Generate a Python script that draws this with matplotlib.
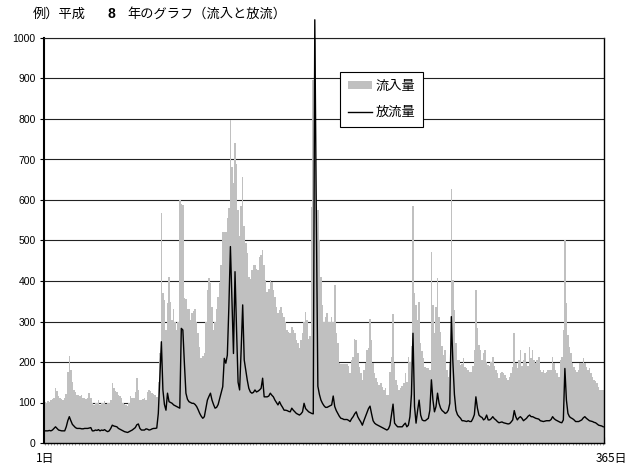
import numpy as np
import matplotlib
matplotlib.use('Agg')
import matplotlib.pyplot as plt
from matplotlib.patches import Patch
from matplotlib.lines import Line2D

plt.rcParams['font.family'] = ['Noto Sans CJK JP', 'DejaVu Sans']

# daily inflow (流入量)
inflow = [
    102, 100, 104, 102, 105, 108, 112, 135, 128, 115,
    110, 108, 105, 110, 120, 175, 215, 180, 150, 130,
    125, 118, 118, 115, 118, 112, 110, 108, 112, 124,
    110, 98, 95, 100, 98, 105, 95, 100, 98, 103,
    96, 100, 98, 105, 147, 135, 128, 125, 118, 115,
    110, 100, 96, 94, 92, 98, 115, 112, 110, 125,
    161, 130, 106, 105, 108, 110, 106, 125, 132, 128,
    123, 120, 118, 114, 150, 221, 567, 370, 353, 279,
    345, 411, 349, 304, 330, 300, 279, 300, 600, 590,
    588, 357, 355, 330, 330, 304, 320, 325, 332, 300,
    271, 238, 209, 215, 221, 300, 378, 407, 394, 337,
    279, 300, 330, 360, 395, 440, 520, 522, 520, 555,
    580, 798, 682, 641, 740, 690, 575, 510, 584, 658,
    535, 493, 468, 411, 405, 427, 440, 440, 430, 427,
    460, 465, 477, 440, 402, 374, 380, 402, 398, 378,
    361, 337, 320, 328, 337, 320, 312, 300, 279, 275,
    271, 287, 279, 271, 254, 246, 234, 254, 271, 300,
    324, 304, 258, 263, 583, 896, 1010, 583, 575, 500,
    411, 340, 300, 310, 320, 300, 300, 312, 300, 390,
    271, 246, 197, 195, 195, 195, 195, 195, 190, 174,
    205, 213, 258, 254, 221, 188, 172, 156, 180, 197,
    230, 234, 305, 254, 197, 172, 160, 151, 143, 147,
    139, 131, 135, 119, 119, 176, 213, 319, 197, 156,
    143, 131, 135, 140, 147, 174, 151, 213, 200, 240,
    585, 370, 341, 304, 349, 246, 226, 209, 188, 184,
    184, 180, 472, 341, 271, 337, 407, 312, 275, 240,
    217, 230, 180, 164, 197, 626, 402, 328, 246, 205,
    205, 193, 195, 209, 188, 184, 180, 176, 176, 190,
    230, 379, 283, 242, 230, 205, 221, 230, 200, 193,
    190, 200, 213, 190, 180, 172, 160, 172, 176, 174,
    168, 160, 156, 164, 172, 188, 271, 197, 184, 205,
    230, 190, 205, 221, 197, 190, 236, 209, 230, 205,
    197, 205, 213, 180, 176, 180, 172, 176, 180, 180,
    180, 213, 197, 180, 172, 164, 205, 213, 280, 501,
    345, 267, 238, 221, 197, 188, 180, 176, 180, 197,
    197, 209, 197, 188, 180, 184, 172, 164, 156, 152,
    147, 139, 132, 132, 130,
]

# daily outflow (放流量)
outflow = [
    30, 30, 30, 31, 30, 32, 36, 40, 36, 32,
    31, 30, 30, 30, 40, 55, 65, 55, 46, 42,
    38, 36, 36, 36, 35, 35, 36, 36, 36, 37,
    38, 30, 30, 32, 31, 33, 30, 32, 31, 33,
    30, 28, 30, 36, 44, 42, 41, 40, 36, 34,
    32, 30, 28, 27, 26, 28, 30, 32, 35, 38,
    45, 47, 36, 32, 32, 32, 35, 34, 32, 33,
    35, 36, 36, 37, 73, 160, 250, 131, 95, 81,
    123, 102, 100, 98, 94, 92, 90, 88, 86, 283,
    279, 197, 123, 108, 102, 100, 98, 98, 95, 90,
    82, 73, 66, 61, 65, 85, 106, 115, 123, 106,
    95, 86, 88, 95, 110, 125, 139, 209, 197, 217,
    337, 485, 350, 221, 423, 280, 150, 131, 230, 341,
    205, 180, 155, 135, 126, 123, 125, 131, 126, 128,
    131, 135, 160, 114, 114, 114, 116, 123, 118, 114,
    106, 100, 94, 102, 94, 88, 81, 81, 80, 78,
    77, 86, 81, 77, 73, 71, 69, 72, 77, 98,
    85, 81, 77, 75, 73, 72, 1045, 560, 140, 120,
    106, 98, 92, 88, 88, 90, 92, 94, 116, 90,
    80, 73, 66, 61, 60, 58, 58, 58, 56, 53,
    60, 65, 72, 77, 65, 58, 52, 44, 55, 65,
    75, 85, 91, 72, 55, 49, 46, 44, 42, 40,
    38, 36, 34, 32, 35, 44, 70, 96, 49, 44,
    40, 40, 40, 40, 45, 49, 40, 44, 65, 120,
    271, 90, 49, 80, 106, 69, 57, 55, 55, 58,
    61, 81, 156, 106, 77, 90, 123, 98, 86, 80,
    77, 73, 75, 81, 98, 312, 200, 120, 81, 70,
    65, 61, 55, 55, 54, 53, 55, 53, 53, 60,
    70, 114, 86, 69, 65, 63, 57, 60, 69, 57,
    57, 60, 65, 60, 57, 53, 50, 51, 52, 50,
    49, 48, 47, 48, 52, 57, 80, 65, 57, 62,
    65, 61, 55, 58, 61, 66, 69, 65, 65, 63,
    61, 60, 59, 55, 54, 53, 54, 55, 55, 55,
    58, 65, 60, 57, 55, 53, 51, 50, 57, 184,
    106, 73, 65, 62, 60, 57, 53, 53, 53, 55,
    57, 62, 65, 61, 58, 55, 54, 53, 51, 50,
    47, 44, 43, 42, 40,
]

y_ticks = list(range(0, 1001, 100))
assert len(inflow) == 365 and len(outflow) == 365
days = np.arange(1, len(inflow) + 1)

W, H = 629, 465
fig = plt.figure(figsize=(W / 100, H / 100), dpi=100)
ax = fig.add_axes([44 / W, 1 - 443 / H, 560 / W, 405 / H])

ax.bar(days, inflow, width=1.0, color='#c0c0c0', linewidth=0, zorder=2)
ax.plot(days, outflow, color='black', lw=1.0, zorder=3, clip_on=False)

ax.set_xlim(0.5, 365.5)
ax.set_ylim(0, 1000)
ax.set_yticks(y_ticks)
ax.set_yticklabels([str(v) for v in y_ticks], family='Liberation Sans', fontsize=7.5)
ax.yaxis.grid(True, color='#222222', lw=0.8)
ax.set_axisbelow(True)
ax.tick_params(axis='y', length=3, width=0.8, pad=3)

# month ticks on the category axis, small day ticks below
ax.set_xticks([0.5 + k * 365 / 12 for k in range(1, 13)])
ax.set_xticks(days[::2], minor=True)
ax.tick_params(axis='x', which='major', direction='in', length=4, width=0.8, labelbottom=False)
ax.tick_params(axis='x', which='minor', direction='out', length=1.5, width=0.4, color='#555555')

for s in ['left', 'bottom', 'right']:
    ax.spines[s].set_color('black')
ax.spines['left'].set_linewidth(1.5)
ax.spines['bottom'].set_linewidth(1.0)
ax.spines['right'].set_linewidth(1.0)
ax.spines['top'].set_color('#222222')
ax.spines['top'].set_linewidth(0.8)

fig.text(36 / W, 1 - 458 / H, '1日', fontsize=8.5, va='center', ha='left')
fig.text(627 / W, 1 - 458 / H, '365日', fontsize=8.5, va='center', ha='right')

# title, with the year number in bold
ty = 1 - 14 / H
fig.text(33 / W, ty, '例）平成', fontsize=9.5, va='center')
fig.text(108 / W, ty, '8', fontsize=10, fontweight='bold', family='Liberation Sans', va='center')
fig.text(127 / W, ty, '年のグラフ（流入と放流）', fontsize=9.5, va='center')

handles = [Patch(facecolor='#c0c0c0', edgecolor='none'),
           Line2D([], [], color='black', lw=1.0)]
leg = ax.legend(handles, ['流入量', '放流量'], loc='upper left',
                bbox_to_anchor=(340 / W, 1 - 72 / H), bbox_transform=fig.transFigure,
                borderaxespad=0, fontsize=9.5, handlelength=1.8, handleheight=0.5,
                handletextpad=0.3, labelspacing=1.0, borderpad=0.6,
                fancybox=False, framealpha=1, edgecolor='black')
leg.get_frame().set_linewidth(0.8)

fig.savefig('out.png', dpi=100)
